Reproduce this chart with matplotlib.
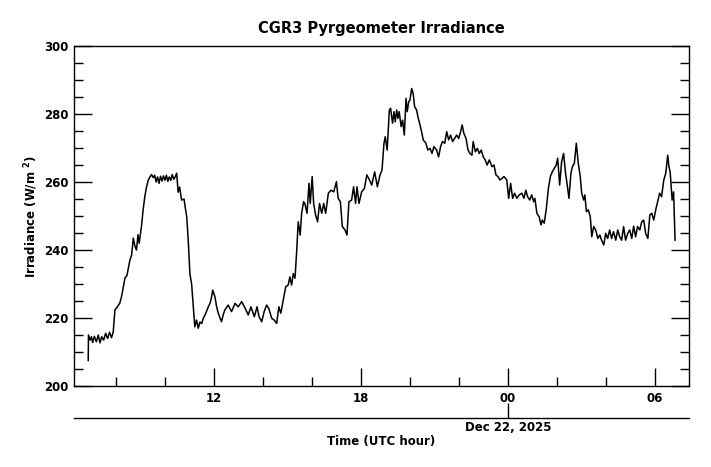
import matplotlib.pyplot as plt
from matplotlib.ticker import FixedLocator, MultipleLocator

# hours since 00 UTC Dec 21, 2025
hours = [
    6.87, 6.88, 6.95, 7.00, 7.05, 7.12, 7.20, 7.28, 7.35, 7.42, 7.50, 7.58, 7.66, 7.74, 7.82, 7.89,
    7.96, 8.05, 8.16, 8.23, 8.30, 8.37, 8.45, 8.57, 8.64, 8.71, 8.78, 8.84, 8.90, 8.95, 9.05, 9.11,
    9.18, 9.25, 9.32, 9.39, 9.45, 9.52, 9.58, 9.64, 9.70, 9.76, 9.82, 9.88, 9.94, 10.00, 10.06, 10.12,
    10.18, 10.24, 10.30, 10.36, 10.42, 10.48, 10.54, 10.60, 10.68, 10.78, 10.84, 10.89, 10.95, 11.02,
    11.09, 11.16, 11.22, 11.29, 11.36, 11.43, 11.50, 11.57, 11.63, 11.70, 11.77, 11.84, 11.90, 11.95,
    12.04, 12.11, 12.18, 12.25, 12.31, 12.38, 12.45, 12.58, 12.72, 12.86, 12.99, 13.13, 13.27, 13.40,
    13.51, 13.65, 13.76, 13.84, 13.95, 14.05, 14.15, 14.24, 14.36, 14.46, 14.56, 14.65, 14.73, 14.83,
    14.93, 15.03, 15.10, 15.17, 15.24, 15.31, 15.38, 15.44, 15.52, 15.58, 15.66, 15.71, 15.80, 15.88,
    15.93, 16.01, 16.07, 16.15, 16.23, 16.31, 16.40, 16.48, 16.56, 16.67, 16.78, 16.89, 17.00, 17.07,
    17.16, 17.24, 17.35, 17.43, 17.51, 17.62, 17.70, 17.78, 17.84, 17.92, 18.03, 18.14, 18.24, 18.35,
    18.44, 18.56, 18.67, 18.78, 18.86, 18.94, 18.99, 19.07, 19.16, 19.21, 19.29, 19.35, 19.40, 19.46,
    19.51, 19.56, 19.64, 19.70, 19.77, 19.84, 19.89, 19.95, 20.00, 20.07, 20.13, 20.19, 20.27, 20.34,
    20.41, 20.49, 20.54, 20.65, 20.73, 20.82, 20.90, 20.98, 21.09, 21.17, 21.25, 21.33, 21.42, 21.50,
    21.58, 21.66, 21.74, 21.82, 21.91, 21.99, 22.07, 22.13, 22.20, 22.29, 22.37, 22.45, 22.53, 22.58,
    22.67, 22.75, 22.83, 22.91, 22.99, 23.07, 23.15, 23.24, 23.35, 23.43, 23.51, 23.59, 23.67, 23.76,
    23.84, 23.95, 24.03, 24.11, 24.19, 24.27, 24.36, 24.46, 24.57, 24.65, 24.73, 24.80, 24.89, 24.97,
    25.05, 25.10, 25.18, 25.27, 25.35, 25.40, 25.48, 25.56, 25.65, 25.73, 25.81, 25.89, 25.97, 26.03,
    26.11, 26.19, 26.27, 26.35, 26.41, 26.49, 26.57, 26.63, 26.71, 26.79, 26.87, 26.95, 27.01, 27.09,
    27.14, 27.20, 27.28, 27.36, 27.42, 27.50, 27.58, 27.67, 27.75, 27.82, 27.91, 27.99, 28.07, 28.15,
    28.23, 28.31, 28.40, 28.48, 28.56, 28.64, 28.72, 28.80, 28.89, 28.97, 29.05, 29.13, 29.21, 29.29,
    29.38, 29.46, 29.54, 29.62, 29.71, 29.79, 29.87, 29.95, 30.03, 30.11, 30.19, 30.27, 30.36, 30.44,
    30.52, 30.57, 30.62, 30.70, 30.76, 30.82,
]
irradiance = [
    207.5, 215.0, 213.5, 214.5, 212.8, 214.6, 213.0, 215.0, 212.7, 214.5, 213.5, 215.5, 214.0, 215.8, 214.2, 215.9,
    222.4, 223.2, 224.4, 226.3, 229.0, 231.8, 232.5, 237.0, 238.5, 243.5, 241.0, 240.0, 244.5, 242.0, 247.4, 251.8,
    255.7, 258.6, 260.5, 261.5, 262.2, 261.3, 262.0, 260.0, 261.5, 259.6, 261.7, 260.3, 261.8, 260.5, 262.0, 260.2,
    261.5, 260.5, 262.2, 260.8, 261.5, 262.6, 257.0, 258.5, 254.7, 255.0, 252.0, 249.8, 243.0, 233.0,
    230.0, 223.3, 217.4, 219.4, 217.0, 218.8, 218.4, 220.0, 220.8, 222.0, 223.3, 224.3, 226.0, 228.2,
    226.3, 223.3, 221.4, 220.0, 218.9, 221.0, 222.4, 223.8, 221.9, 224.3, 223.3, 224.8, 222.9, 220.9,
    223.3, 220.4, 223.3, 220.4, 218.9, 221.9, 223.8, 222.8, 219.9, 219.4, 218.4, 223.3, 221.4, 225.3,
    229.2, 229.7, 232.1, 229.7, 233.1, 231.7, 240.0, 248.3, 244.4, 250.8, 254.2, 253.7, 250.8, 259.6,
    253.7, 261.6, 253.7, 250.3, 248.3, 253.7, 250.8, 253.7, 250.8, 256.7, 257.6, 257.1, 260.1, 255.2,
    254.2, 246.9, 245.9, 244.4, 254.2, 254.7, 258.6, 253.7, 258.6, 253.7, 257.1, 258.1, 262.1, 260.6,
    259.1, 263.0, 258.6, 262.1, 263.5, 271.4, 273.3, 269.4, 281.2, 281.7, 277.3, 280.7, 277.7, 281.2,
    278.7, 280.7, 276.3, 278.2, 273.8, 284.6, 280.7, 283.6, 284.1, 287.5, 286.1, 282.2, 281.2, 278.7,
    276.8, 274.3, 272.4, 271.4, 269.4, 269.9, 268.4, 270.4, 269.4, 267.4, 270.4, 271.9, 271.4, 274.8,
    272.4, 273.8, 271.9, 272.8, 273.8, 272.8, 274.8, 276.8, 274.3, 272.8, 269.4, 268.4, 267.9, 271.9,
    268.9, 269.9, 268.4, 269.4, 267.4, 266.5, 265.0, 266.5, 264.5, 265.0, 262.1, 261.6, 260.6, 261.1,
    261.6, 260.6, 255.2, 259.6, 255.2, 256.7, 255.2, 256.2, 256.7, 255.2, 257.6, 255.7, 254.7, 256.2,
    254.2, 255.2, 250.8, 249.8, 247.4, 248.8, 247.9, 251.8, 258.1, 261.6, 263.0, 264.0, 265.0, 267.0,
    259.1, 266.0, 268.4, 262.6, 259.6, 255.2, 262.6, 264.5, 265.5, 271.4, 265.5, 261.6, 256.7, 254.7,
    256.2, 251.3, 251.8, 249.8, 243.9, 246.9, 245.9, 243.4, 244.4, 242.9, 241.5, 244.9, 243.4, 245.9,
    243.4, 245.4, 242.9, 245.9, 243.9, 242.9, 246.9, 242.9, 244.9, 245.9, 243.4, 247.0, 243.9, 246.9,
    245.9, 248.3, 248.8, 244.9, 243.4, 250.3, 250.8, 248.8, 251.8, 254.2, 256.7, 255.7, 260.6, 262.6,
    267.9, 264.5, 263.0, 254.7, 257.1, 242.9,
]

major_hours = [12, 18, 24, 30]
major_labels = ["12", "18", "00", "06"]
date_label = "Dec 22, 2025"

fig = plt.figure(figsize=(7.11, 4.67), dpi=100)
ax = fig.add_axes([0.1041, 0.1734, 0.8650, 0.7281])

ax.plot(hours, irradiance, color="black", lw=1.1)

ax.set_xlim(6.29, 31.39)
ax.set_ylim(200, 300)

ax.xaxis.set_major_locator(FixedLocator(major_hours))
ax.set_xticklabels(major_labels)
ax.xaxis.set_minor_locator(FixedLocator([8, 10, 14, 16, 20, 22, 26, 28]))
ax.yaxis.set_major_locator(MultipleLocator(20))
ax.yaxis.set_minor_locator(MultipleLocator(5))

ax.tick_params(which="both", direction="in", top=True, right=True, width=1.0)
ax.tick_params(which="major", length=13, pad=4)
ax.tick_params(which="minor", length=6.5)
for lab in ax.get_xticklabels() + ax.get_yticklabels():
    lab.set_fontsize(8.5)
    lab.set_fontweight("bold")
for s in ax.spines.values():
    s.set_linewidth(1.0)

ax.set_title("CGR3 Pyrgeometer Irradiance", fontsize=10.5, fontweight="bold", pad=9)
ax.set_ylabel(r"Irradiance (W/m $^{\mathbf{2}}$)", fontsize=8.5, fontweight="bold", labelpad=3)

# second axis line with the date
ax2 = ax.twiny()
ax2.set_xlim(ax.get_xlim())
ax2.xaxis.set_ticks_position("bottom")
ax2.xaxis.set_label_position("bottom")
for k in ["top", "left", "right"]:
    ax2.spines[k].set_visible(False)
ax2.spines["bottom"].set_position(("outward", 23))
ax2.spines["bottom"].set_linewidth(1.0)
ax2.set_xticks([24])
ax2.set_xticklabels([date_label], fontsize=8.5, fontweight="bold")
ax2.tick_params(direction="in", length=11, width=1.0, pad=2)
ax2.set_xlabel("Time (UTC hour)", fontsize=8.5, fontweight="bold", labelpad=1)

fig.savefig("out.png", dpi=100)
